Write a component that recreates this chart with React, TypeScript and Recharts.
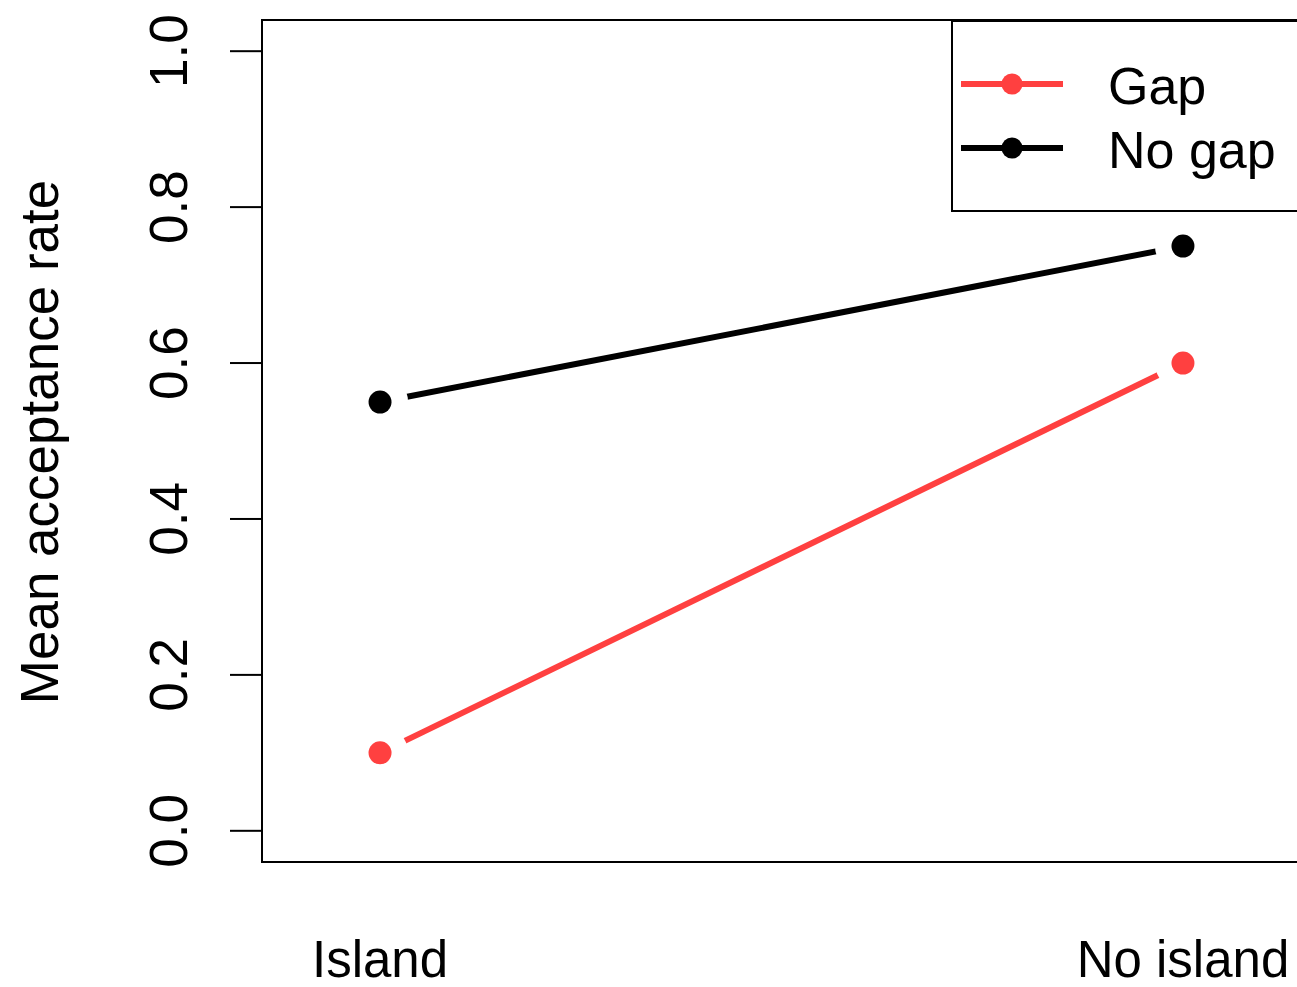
import React from "react";
import {
  LineChart,
  Line,
  XAxis,
  YAxis,
  ReferenceArea,
  Legend,
} from "recharts";

const conditions = ["Island", "No island"];
const xPositions = [1, 2];
const gapRates = [0.1, 0.6];
const noGapRates = [0.55, 0.75];
const yTicks = [0, 0.2, 0.4, 0.6, 0.8, 1.0];

const xDomain: [number, number] = [0.853, 2.147];
const yDomain: [number, number] = [-0.04, 1.04];

const RED = "#FF4040";
const FONT = "'Liberation Sans', Arial, sans-serif";

const rows = conditions.map((c, i) => ({
  x: xPositions[i],
  label: c,
  gap: gapRates[i],
  noGap: noGapRates[i],
}));

// R type="b": point with a little gap before the line starts
const makeDot = (color: string) => (props: any) => {
  const { cx, cy, index } = props;
  return (
    <g key={`dot-${color}-${index}`}>
      <circle cx={cx} cy={cy} r={28} fill="#fff" />
      <circle cx={cx} cy={cy} r={11.5} fill={color} />
    </g>
  );
};

const YTick = (props: any) => {
  const { x, y, payload } = props;
  const tx = x - 43;
  return (
    <text
      x={tx}
      y={y}
      transform={`rotate(-90, ${tx}, ${y})`}
      textAnchor="middle"
      fontFamily={FONT}
      fontSize={53}
      fill="#000"
    >
      {payload.value.toFixed(1)}
    </text>
  );
};

const XTick = (props: any) => {
  const { x, y, payload } = props;
  const idx = xPositions.indexOf(payload.value);
  return (
    <text
      x={x}
      y={y + 115}
      textAnchor="middle"
      fontFamily={FONT}
      fontSize={51}
      fill="#000"
    >
      {conditions[idx]}
    </text>
  );
};

const YLabel = () => (
  <text
    x={58}
    y={442}
    transform="rotate(-90, 58, 442)"
    textAnchor="middle"
    fontFamily={FONT}
    fontSize={53}
    fill="#000"
  >
    Mean acceptance rate
  </text>
);

const LegendBox = (props: any) => {
  const items = props.payload || [];
  return (
    <svg width={360} height={192} style={{ display: "block" }}>
      <rect x={1} y={1} width={400} height={190} fill="#fff" stroke="#000" strokeWidth={2} />
      {items.map((item: any, i: number) => {
        const cy = 64 + i * 64;
        return (
          <g key={item.value}>
            <line x1={10} x2={112} y1={cy} y2={cy} stroke={item.color} strokeWidth={6} />
            <circle cx={61} cy={cy} r={10.5} fill={item.color} />
            <text
              x={157}
              y={cy + 20}
              fontFamily={FONT}
              fontSize={52}
              fill="#000"
            >
              {item.value}
            </text>
          </g>
        );
      })}
    </svg>
  );
};

export default function App() {
  return (
    <div
      style={{
        position: "absolute",
        left: 0,
        top: 0,
        width: 1297,
        height: 987,
        overflow: "hidden",
        background: "#fff",
      }}
    >
      <LineChart
        width={1320}
        height={987}
        data={rows}
        margin={{ top: 20, right: 19, left: 0, bottom: 0 }}
      >
        <XAxis
          dataKey="x"
          type="number"
          domain={xDomain}
          ticks={xPositions}
          axisLine={false}
          tickLine={false}
          tickSize={0}
          tickMargin={0}
          height={125}
          tick={<XTick />}
          interval={0}
        />
        <YAxis
          type="number"
          domain={yDomain}
          ticks={yTicks}
          width={262}
          axisLine={false}
          tickLine={{ stroke: "#000", strokeWidth: 2 }}
          tickSize={32}
          tickMargin={0}
          tick={<YTick />}
          interval={0}
          label={<YLabel />}
        />
        <ReferenceArea
          x1={xDomain[0]}
          x2={xDomain[1]}
          y1={yDomain[0]}
          y2={yDomain[1]}
          fill="none"
          fillOpacity={0}
          stroke="#000"
          strokeWidth={2}
          ifOverflow="visible"
        />
        <Line
          name="Gap"
          dataKey="gap"
          type="linear"
          stroke={RED}
          strokeWidth={6}
          dot={makeDot(RED)}
          activeDot={false}
          isAnimationActive={false}
        />
        <Line
          name="No gap"
          dataKey="noGap"
          type="linear"
          stroke="#000"
          strokeWidth={6}
          dot={makeDot("#000")}
          activeDot={false}
          isAnimationActive={false}
        />
        <Legend
          layout="horizontal"
          align="center"
          verticalAlign="middle"
          content={<LegendBox />}
          wrapperStyle={{
            position: "absolute",
            left: 951,
            top: 20,
            width: 360,
            height: 192,
          }}
        />
      </LineChart>
    </div>
  );
}
